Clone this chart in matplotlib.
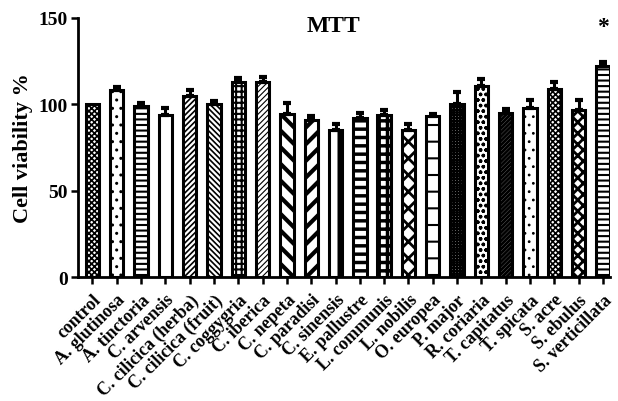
import matplotlib
matplotlib.use("Agg")
import matplotlib.pyplot as plt
import numpy as np

categories = ["control", "A. glutinosa", "A. tinctoria", "C. arvensis",
              "C. cilicica (herba)", "C. cilicica (fruit)", "C. coggygria",
              "C. iberica", "C. nepeta", "C. paradisi", "C. sinensis",
              "E. pallustre", "L. communis", "L. nobilis", "O. europea",
              "P. major", "R. coriaria", "T. capitatus", "T. spicata",
              "S. acre", "S. ebulus", "S. verticillata"]
values = [100, 108, 99, 94, 105, 100, 113, 113, 94.5, 91, 85,
          92, 94, 85, 93, 100, 110.5, 95, 98, 109, 97, 122]
errors = [0, 2, 1.5, 4, 3.5, 2, 2.3, 2.8, 6.5, 2.5, 3.5,
          3, 3, 3.5, 1.5, 7, 4, 2.5, 4.5, 4, 5.5, 2.5]
hatches = ["xxxxxx", "..", "---", "|", "//////", "\\\\\\\\\\\\", "+++", "//////",
           "\\\\", "//", "|", "--", "++", "xx", "-|", "++++++", "ooo",
           "////////", "..", "xxxxxx", "xxx", "---"]
hatch_lw = [1.2, 1.0, 1.5, 1.0, 1.2, 1.2, 1.5, 0.8, 3.0, 3.0, 6.0,
            2.5, 2.5, 2.0, 1.5, 1.5, 1.0, 2.0, 0.8, 1.2, 2.0, 1.5]
significant = ["S. verticillata"]

serif = ["Liberation Serif", "DejaVu Serif"]

fig = plt.figure(figsize=(6.18, 4.02), dpi=100)
ax = fig.add_axes([0.126, 0.308, 0.861, 0.645])

x = np.arange(len(categories))
for i in range(len(categories)):
    with plt.rc_context({"hatch.linewidth": hatch_lw[i]}):
        ax.bar(x[i], values[i], width=0.55, color="white", edgecolor="black",
               linewidth=2.2, hatch=hatches[i], zorder=2)
    if errors[i] > 0:
        ax.errorbar(x[i], values[i], yerr=[[0], [errors[i]]], fmt="none",
                    ecolor="black", elinewidth=2.2, capsize=3, capthick=3,
                    zorder=3)

for s in significant:
    j = categories.index(s)
    ax.text(x[j], 145, "*", ha="center", va="center",
            fontsize=17, fontweight="bold", family=serif, clip_on=False)

ax.set_xlim(-0.6, len(categories) - 1 + 0.29)
ax.set_ylim(0, 150)
ax.set_yticks([0, 50, 100, 150])
ax.set_xticks(x)
ax.set_xticklabels(categories, rotation=45, ha="right", va="top",
                   rotation_mode="anchor", fontsize=12.8, fontweight="bold",
                   family=serif)
for lab in ax.get_yticklabels():
    lab.set_fontweight("bold")
    lab.set_family(serif)
    lab.set_fontsize(14)
ax.set_ylabel("Cell viability %", fontsize=16, fontweight="bold",
              family=serif, labelpad=4)
fig.text(333 / 618, 1 - 26 / 402, "MTT", ha="center", va="center",
         fontsize=17, fontweight="bold", family=serif)

for sp in ["top", "right"]:
    ax.spines[sp].set_visible(False)
for sp in ["left", "bottom"]:
    ax.spines[sp].set_linewidth(2)
ax.tick_params(axis="both", width=1.8, length=5, direction="out")
ax.tick_params(axis="x", pad=5)
ax.tick_params(axis="y", pad=2)

fig.savefig("out.png", dpi=100)
